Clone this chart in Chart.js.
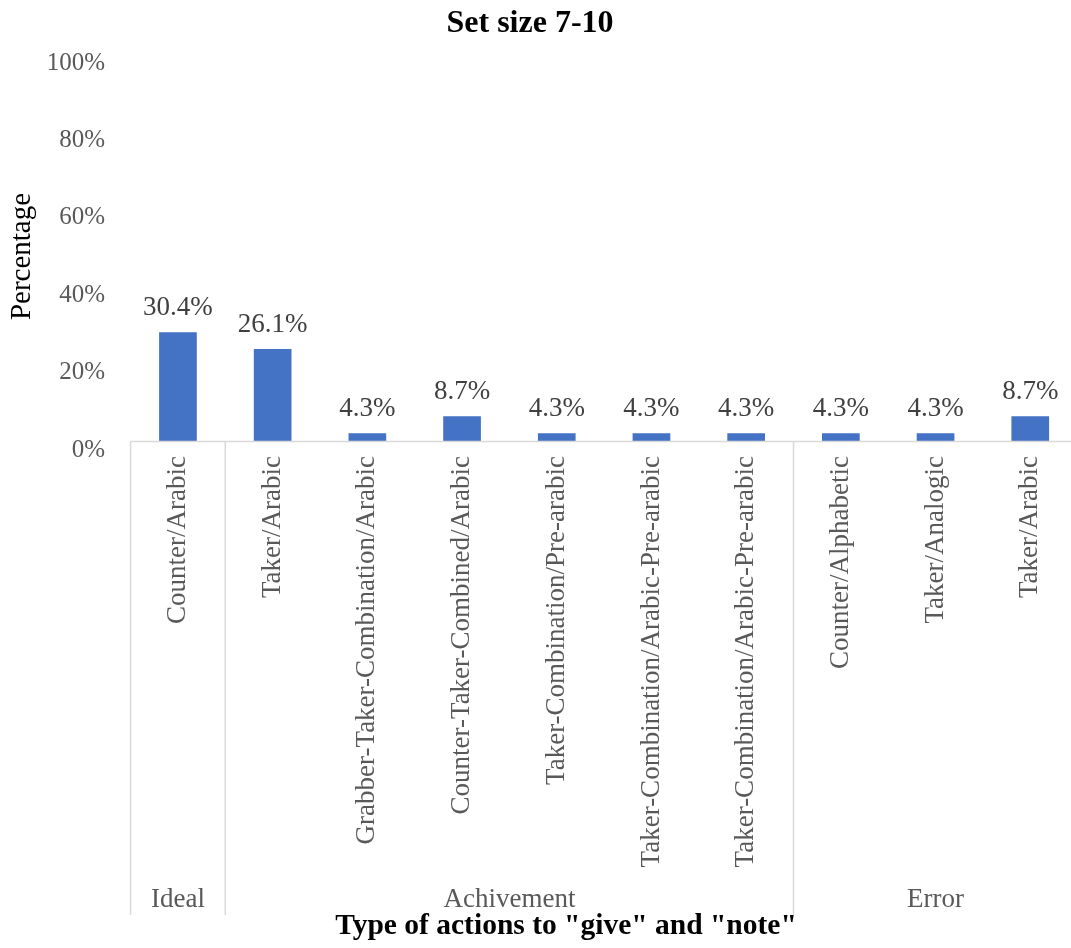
<!DOCTYPE html>
<html>
<head>
<meta charset="utf-8">
<script src="https://cdn.jsdelivr.net/npm/chart.js@4"></script>
<style>
  html, body { margin: 0; padding: 0; background: #fff; overflow: hidden; }
  #wrap { position: relative; width: 1080px; height: 948px; }
</style>
</head>
<body>
<div id="wrap"><canvas id="chart"></canvas></div>
<script>
// categories and values
const categories = [
  'Counter/Arabic',
  'Taker/Arabic',
  'Grabber-Taker-Combination/Arabic',
  'Counter-Taker-Combined/Arabic',
  'Taker-Combination/Pre-arabic',
  'Taker-Combination/Arabic-Pre-arabic',
  'Taker-Combination/Arabic-Pre-arabic',
  'Counter/Alphabetic',
  'Taker/Analogic',
  'Taker/Arabic',
];
const percentages = [30.4, 26.1, 4.3, 8.7, 4.3, 4.3, 4.3, 4.3, 4.3, 8.7];
const groupNames = ['Ideal', 'Achivement', 'Error'];
const groupSizes = [1, 6, 3];
const yTicks = [0, 20, 40, 60, 80, 100];

const serif = '"Liberation Serif", "Times New Roman", serif';
const lineColor = '#d9d9d9';
const axisInset = 8.5;   // category axis line sits a little above the value zero

const categoryAxis = {
  id: 'categoryAxis',
  afterDatasetsDraw(chart) {
    const {ctx, chartArea} = chart;
    const lineY = chartArea.bottom - axisInset;
    const bottomY = 915;
    const step = (chartArea.right - chartArea.left) / categories.length;

    ctx.save();
    // hide the part of the bars below the axis line
    ctx.fillStyle = '#fff';
    ctx.fillRect(chartArea.left - 1, lineY + 0.5, chartArea.right - chartArea.left + 2, axisInset + 1);

    // data labels
    const meta = chart.getDatasetMeta(0);
    ctx.fillStyle = '#404040';
    ctx.font = '27px ' + serif;
    ctx.textAlign = 'center';
    ctx.textBaseline = 'alphabetic';
    meta.data.forEach((bar, i) => {
      ctx.fillText(percentages[i].toFixed(1) + '%', bar.x, bar.y - 17);
    });

    // axis line and group separators
    ctx.strokeStyle = lineColor;
    ctx.lineWidth = 1.5;
    ctx.beginPath();
    ctx.moveTo(chartArea.left, lineY);
    ctx.lineTo(chartArea.right, lineY);
    let idx = 0;
    const edges = [0];
    groupSizes.forEach(n => { idx += n; edges.push(idx); });
    edges.forEach(e => {
      const ex = chartArea.left + e * step;
      ctx.moveTo(ex, lineY);
      ctx.lineTo(ex, bottomY);
    });
    ctx.stroke();

    // group names
    ctx.fillStyle = '#595959';
    ctx.font = '27px ' + serif;
    groupNames.forEach((name, g) => {
      const cx = chartArea.left + (edges[g] + edges[g + 1]) / 2 * step;
      ctx.fillText(name, cx, 907);
    });

    // chart title and category axis title
    ctx.fillStyle = '#000';
    ctx.font = 'bold 32px ' + serif;
    ctx.fillText('Set size 7-10', 530, 32);
    ctx.font = 'bold 29.5px ' + serif;
    ctx.fillText('Type of actions to "give" and "note"', 566, 934);
    ctx.restore();
  }
};

const chart = new Chart(document.getElementById('chart'), {
  type: 'bar',
  data: {
    labels: categories,
    datasets: [{
      data: percentages,
      backgroundColor: '#4472c4',
      borderWidth: 0,
      barPercentage: 0.398,
      categoryPercentage: 1,
    }]
  },
  options: {
    responsive: true,
    maintainAspectRatio: false,
    animation: false,
    layout: {padding: {top: 63, right: 2.4, bottom: 0, left: 0}},
    plugins: {
      legend: {display: false},
      tooltip: {enabled: false},
      title: {display: false},
    },
    scales: {
      x: {
        grid: {display: false, drawTicks: false},
        border: {display: false},
        ticks: {
          autoSkip: false,
          minRotation: 90,
          maxRotation: 90,
          padding: 6,
          color: '#595959',
          font: {family: serif, size: 27},
        },
        afterFit: scale => { scale.height = 498; },
      },
      y: {
        min: 0,
        max: 100,
        grid: {display: false, drawTicks: false},
        border: {display: false},
        afterBuildTicks: scale => { scale.ticks = yTicks.map(v => ({value: v})); },
        ticks: {
          padding: 25.6,
          color: '#595959',
          font: {family: serif, size: 25},
          callback: v => v + '%',
        },
        title: {
          display: true,
          text: 'Percentage',
          color: '#000',
          font: {family: serif, size: 29},
          padding: {top: 5, bottom: 0},
        },
        afterFit: scale => { scale.width = 130.6; },
      }
    }
  },
  plugins: [categoryAxis]
});
</script>
</body>
</html>
